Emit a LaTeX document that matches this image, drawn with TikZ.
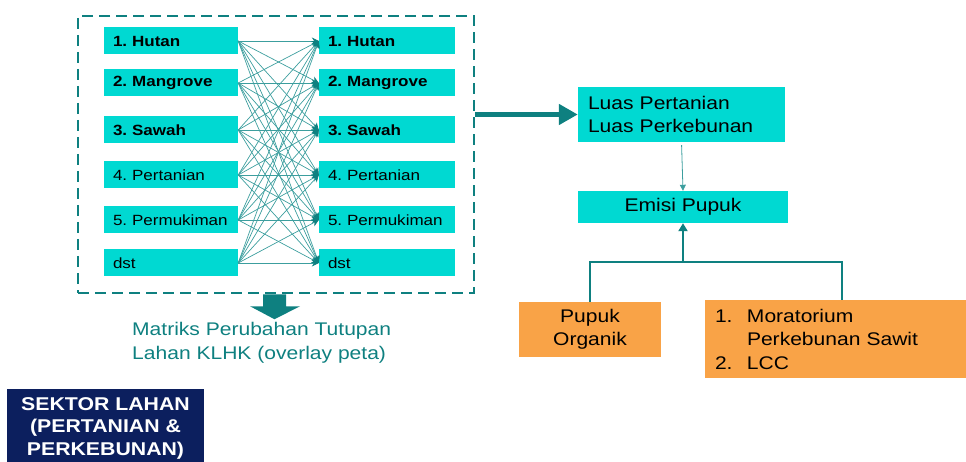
\documentclass[tikz,border=0pt]{standalone}
\usepackage{fontspec}
\setmainfont{Liberation Sans}[FakeStretch=1.15]
\usetikzlibrary{arrows.meta}

\definecolor{kotak}{HTML}{00D9D2}
\definecolor{hijau}{HTML}{0E8080}
\definecolor{garis}{HTML}{3C9E9E}
\definecolor{oranye}{HTML}{F9A347}
\definecolor{biru}{HTML}{0C1F5E}

\begin{document}
\frenchspacing
\begin{tikzpicture}[x=1pt, y=-1pt, >=Stealth,
    kelas/.style={fill=kotak, minimum height=27pt, inner xsep=9pt, inner ysep=0pt,
        align=left, font=\fontsize{14.8}{17}\selectfont},
    teks/.style={font=\fontsize{18.3}{23.5}\selectfont},
    kotakkanan/.style={teks, fill=kotak, inner xsep=10pt, inner ysep=0pt},
    kotakoranye/.style={teks, fill=oranye, inner xsep=10pt, inner ysep=0pt},
    silang/.style={garis, line width=0.7pt, -{Stealth[length=7pt,width=7pt,color=hijau]}},
    bingkai/.style={draw=hijau, line width=2.5pt, dash pattern=on 11pt off 6pt},
    cabang/.style={hijau, line width=2.5pt}]
    \useasboundingbox (0,0) rectangle (966,462);

    \node[bingkai, minimum width=396pt, minimum height=277pt] (bingkai) at (276,154.5) {};

    \foreach \i/\y/\f/\t in {1/41/\bfseries/1. Hutan, 2/83/\bfseries/2. Mangrove,
            3/130/\bfseries/3. Sawah, 4/175/\mdseries/4. Pertanian,
            5/220/\mdseries/5. Permukiman, 6/263/\mdseries/dst} {
        \node[kelas, text width=116pt] (l\i) at (171,\y) {\f\t};
        \node[kelas, text width=118pt] (r\i) at (387,\y) {\f\t};
    }

    \foreach \i in {1,...,6}
        \foreach \j in {1,...,6}
            \draw[silang] (l\i.east) -- (r\j.west);

    \fill[hijau] (bingkai.south) ++(-13,0) -- ++(23,0) -- ++(0,12) -- ++(14,0)
        -- ++(-25.5,13) -- ++(-24.5,-13) -- ++(13,0) -- cycle;
    \node[teks, text=hijau, anchor=west, align=left, inner sep=0pt] (matriks) at (132,343)
        {Matriks Perubahan Tutupan\\Lahan KLHK (overlay peta)};

    \node[kotakkanan, text width=187pt, minimum height=55pt, align=left] (luas) at (681.5,114.5)
        {Luas Pertanian\\Luas Perkebunan};
    \node[kotakkanan, minimum width=210pt, minimum height=32pt] (emisi) at (683,207) {Emisi Pupuk};
    \node[kotakoranye, minimum width=142pt, minimum height=55pt, align=center] (pupuk) at (590,329.5)
        {Pupuk\\Organik};
    \node[kotakoranye, text width=242pt, minimum height=78pt, align=left] (kebijakan) at (836,339)
        {\makebox[32pt][l]{1.}Moratorium\\\hspace*{32pt}Perkebunan Sawit\\\makebox[32pt][l]{2.}LCC};

    \draw[->, hijau, line width=5pt, -{Triangle[length=19pt,width=20pt]}]
        (bingkai.east |- luas.west) -- (luas.west);
    \draw[->, garis, line width=0.8pt, shorten <=3pt, -{Triangle[length=6pt,width=6pt]}]
        (luas.south) -- (emisi.north);

    \coordinate (cabang) at (683,262);
    \draw[cabang] (pupuk.north) |- (cabang) -| ([xshift=6pt]kebijakan.north);
    \draw[cabang, -{Triangle[length=8pt,width=9pt]}] (cabang) -- (emisi.south);

    \node[fill=biru, text=white, minimum width=197pt, minimum height=78pt, align=center,
        font=\fontsize{18.5}{22.5}\selectfont\bfseries] (sektor) at (105.5,428)
        {SEKTOR LAHAN\\(PERTANIAN \&\\PERKEBUNAN)};
\end{tikzpicture}
\end{document}
